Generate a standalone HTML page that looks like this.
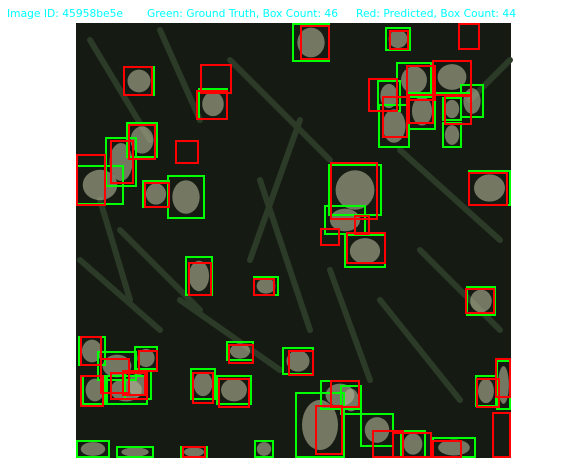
<!DOCTYPE html>
<html><head><meta charset="utf-8"><style>
body{margin:0;background:#fff;width:586px;height:465px;overflow:hidden;font-family:"DejaVu Sans","Liberation Sans",sans-serif}
</style></head><body>
<svg width="586" height="465">
<g fill="#00ffff" font-size="11" font-family="DejaVu Sans, sans-serif">
<text x="7" y="17" textLength="116" lengthAdjust="spacingAndGlyphs">Image ID: 45958be5e</text>
<text x="147" y="17" textLength="191" lengthAdjust="spacingAndGlyphs">Green: Ground Truth, Box Count: 46</text>
<text x="356" y="17" textLength="160" lengthAdjust="spacingAndGlyphs">Red: Predicted, Box Count: 44</text>
</g>
<rect x="76" y="23" width="435" height="435" fill="#151a13"/>
<g id="grass"></g>
<g id="heads"></g>
<g id="gt"></g>
<g id="pr"></g>
</svg>
<script>
const greenBoxes=[[292,22,38,40],[385,27,26,24],[123,66,32,30],[198,88,30,32],[396,62,36,36],[432,60,40,34],[460,84,24,34],[378,104,32,44],[408,92,28,38],[442,122,20,26],[105,137,32,50],[126,122,32,36],[76,165,48,40],[167,175,38,44],[142,180,28,28],[328,164,54,52],[324,205,42,30],[344,234,42,34],[468,170,43,36],[185,256,28,40],[253,276,26,20],[466,286,30,30],[78,336,28,30],[97,351,40,30],[134,346,24,24],[104,375,44,30],[226,341,28,20],[282,347,32,28],[190,368,26,32],[216,375,36,30],[320,380,40,30],[295,392,50,66],[360,413,34,34],[400,430,26,28],[432,437,44,21],[475,375,22,32],[496,360,15,50],[76,440,34,18],[116,446,38,12],[180,446,28,12],[254,440,20,18],[124,370,28,30],[377,80,24,32],[442,97,20,24],[340,385,22,30],[82,375,26,30]];
const redBoxes=[[458,22,22,28],[389,30,20,20],[300,25,30,35],[123,66,30,30],[200,64,32,30],[196,90,32,30],[368,78,30,34],[406,65,30,36],[432,60,40,36],[382,96,26,42],[76,154,30,52],[110,140,24,44],[128,124,28,36],[175,140,24,24],[144,182,26,26],[330,162,48,58],[346,232,40,32],[468,172,40,34],[188,262,24,34],[253,278,22,18],[465,288,30,26],[80,336,22,30],[100,358,30,36],[110,372,38,28],[80,375,24,32],[288,350,26,26],[192,372,22,32],[218,378,32,30],[315,405,28,50],[372,430,32,28],[392,432,40,26],[495,358,16,40],[492,412,19,46],[476,378,24,30],[182,446,24,12],[354,215,16,20],[330,380,30,28],[432,440,30,18],[444,95,28,30],[228,344,26,20],[138,350,20,22],[320,228,20,18],[408,94,26,30],[122,370,24,26]];
const leaves=[[90,40,150,140],[160,30,200,120],[230,60,330,160],[300,120,250,260],[400,150,500,240],[80,260,160,330],[120,230,200,310],[330,270,370,380],[260,180,310,330],[420,250,500,330],[180,300,280,370],[380,300,460,400],[100,200,130,300],[470,100,510,60]];
const NS="http://www.w3.org/2000/svg";
function clip(b){const x=Math.max(76,b[0]),y=Math.max(23,b[1]);const x2=Math.min(511,b[0]+b[2]),y2=Math.min(458,b[1]+b[3]);return [x,y,x2-x,y2-y];}
const g0=document.getElementById('grass');
leaves.forEach(l=>{const p=document.createElementNS(NS,'line');


p.setAttribute('x1',l[0]);p.setAttribute('y1',l[1]);p.setAttribute('x2',l[2]);p.setAttribute('y2',l[3]);
p.setAttribute('stroke','#2c3a28');p.setAttribute('stroke-width','6');p.setAttribute('stroke-linecap','round');g0.appendChild(p);});
const gh=document.getElementById('heads');
greenBoxes.forEach(b=>{const c=clip(b);const e=document.createElementNS(NS,'ellipse');


e.setAttribute('cx',c[0]+c[2]/2);e.setAttribute('cy',c[1]+c[3]/2);e.setAttribute('rx',c[2]*0.36);e.setAttribute('ry',c[3]*0.38);
e.setAttribute('fill','#b4b596');e.setAttribute('opacity','0.6');gh.appendChild(e);});
function draw(arr,id,color,name){const g=document.getElementById(id);arr.forEach(b=>{const c=clip(b);const r=document.createElementNS(NS,'rect');


r.setAttribute('x',c[0]+1);r.setAttribute('y',c[1]+1);r.setAttribute('width',Math.max(0,c[2]-2));r.setAttribute('height',Math.max(0,c[3]-2));
r.setAttribute('fill','none');r.setAttribute('stroke',color);r.setAttribute('stroke-width','2');g.appendChild(r);});}
draw(greenBoxes,'gt','#00ff00','ground-truth-box');
draw(redBoxes,'pr','#ff0000','predicted-box');
</script>
</body></html>
